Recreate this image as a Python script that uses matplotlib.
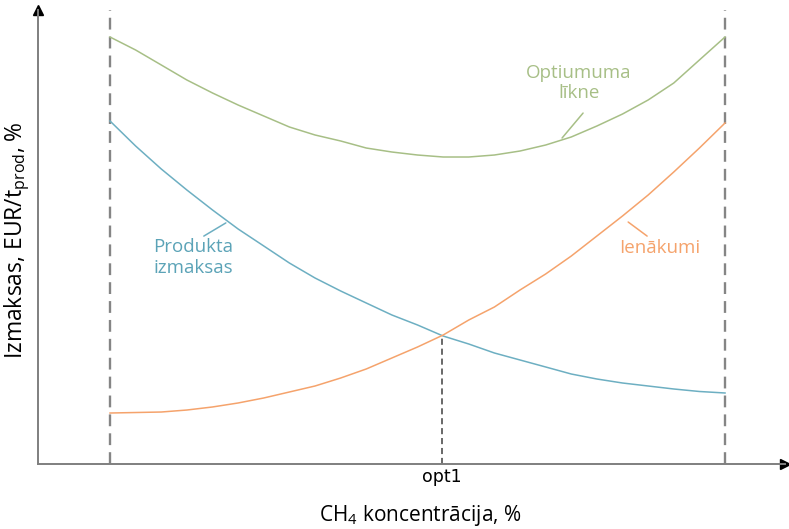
import numpy as np
import matplotlib
matplotlib.use("Agg")
import matplotlib.pyplot as plt

plt.rcParams["mathtext.default"] = "regular"

# Data (abstract units: concentration steps 0..12, cost/income 0..100)
conc = np.linspace(0, 12, 25)
optimum = [94.05, 91.19, 87.89, 84.58, 81.72, 79.07, 76.65, 74.23, 72.47, 71.15,
           69.60, 68.72, 68.06, 67.62, 67.62, 68.06, 68.94, 70.26, 72.03, 74.45,
           77.09, 80.18, 83.92, 88.99, 94.05]
product_cost = [75.55, 70.04, 64.98, 60.35, 55.95, 51.76, 48.02, 44.27, 40.97, 38.11,
                35.46, 32.82, 30.62, 28.19, 26.43, 24.45, 22.91, 21.37, 19.82, 18.72,
                17.84, 17.18, 16.52, 15.97, 15.64]
income = [11.23, 11.34, 11.45, 11.89, 12.56, 13.44, 14.54, 15.86, 17.18, 18.94,
          20.93, 23.35, 25.77, 28.41, 31.72, 34.58, 38.33, 41.85, 45.81, 50.22,
          54.63, 59.25, 64.32, 69.60, 75.11]
opt_x = 6.48
opt_label = "opt1"

green = "#A7BF86"
blue = "#6DAFC2"
orange = "#F5A36C"
font = "Open Sans"

fig = plt.figure(figsize=(7.89, 5.29), dpi=100)
ax = fig.add_axes([38/789, 65/529, (785-38)/789, (464-10)/529])
ax.set_xlim(-1.405, 13.17)
ax.set_ylim(0, 100)

for s in ["top", "right"]:
    ax.spines[s].set_visible(False)
for s in ["left", "bottom"]:
    ax.spines[s].set_color("#7f7f7f")
    ax.spines[s].set_linewidth(1.4)
ax.set_yticks([])
ax.set_xticks([opt_x])
ax.set_xticklabels([opt_label], fontsize=12.5, family="DejaVu Sans")
ax.tick_params(axis="x", length=0, pad=3)

# arrow heads
ax.plot(1, 0, ">", color="black", markersize=7, transform=ax.transAxes, clip_on=False)
ax.plot(0, 1, "^", color="black", markersize=7, transform=ax.transAxes, clip_on=False)

# dashed boundaries
for xv in [conc[0], conc[-1]]:
    ax.axvline(xv, color="#858585", lw=1.7, dashes=(5, 3), ymax=1.0)

ax.plot(conc, optimum, color=green, lw=1.1)
ax.plot(conc, product_cost, color=blue, lw=1.1)
ax.plot(conc, income, color=orange, lw=1.1)

opt_y = np.interp(opt_x, conc, product_cost)
ax.plot([opt_x, opt_x], [0, opt_y], color="#404040", lw=1.1, dashes=(4, 2.5))

# labels with leader lines
ax.text(9.15, 83.9, "Optiumuma\nlīkne", ha="center", va="center", color=green,
        fontsize=13.5, family=font, linespacing=1.2)
ax.annotate("", xy=(8.82, 71.8), xytext=(9.23, 77.3),
            arrowprops=dict(arrowstyle="-", color=green, lw=1.1, shrinkA=0, shrinkB=0))

ax.text(1.62, 45.4, "Produkta\nizmaksas", ha="center", va="center", color="#5BA3B7",
        fontsize=13.5, family=font, linespacing=1.2)
ax.annotate("", xy=(2.26, 53.1), xytext=(1.83, 50.2),
            arrowprops=dict(arrowstyle="-", color=blue, lw=1.1, shrinkA=0, shrinkB=0))

ax.text(10.73, 47.6, "Ienākumi", ha="center", va="center", color=orange,
        fontsize=13.5, family=font)
ax.annotate("", xy=(10.48, 50.2), xytext=(10.11, 53.3),
            arrowprops=dict(arrowstyle="-", color=orange, lw=1.1, shrinkA=0, shrinkB=0))

fig.text(420/789, 1 - 516/529, "CH$_4$ koncentrācija, %", ha="center", va="center",
         fontsize=15, family=font)
fig.text(17/789, 1 - 240/529, "Izmaksas, EUR/t$_{prod}$, %", ha="center", va="center",
         rotation=90, fontsize=16.5, family=font)

fig.savefig("out.png", dpi=100)
